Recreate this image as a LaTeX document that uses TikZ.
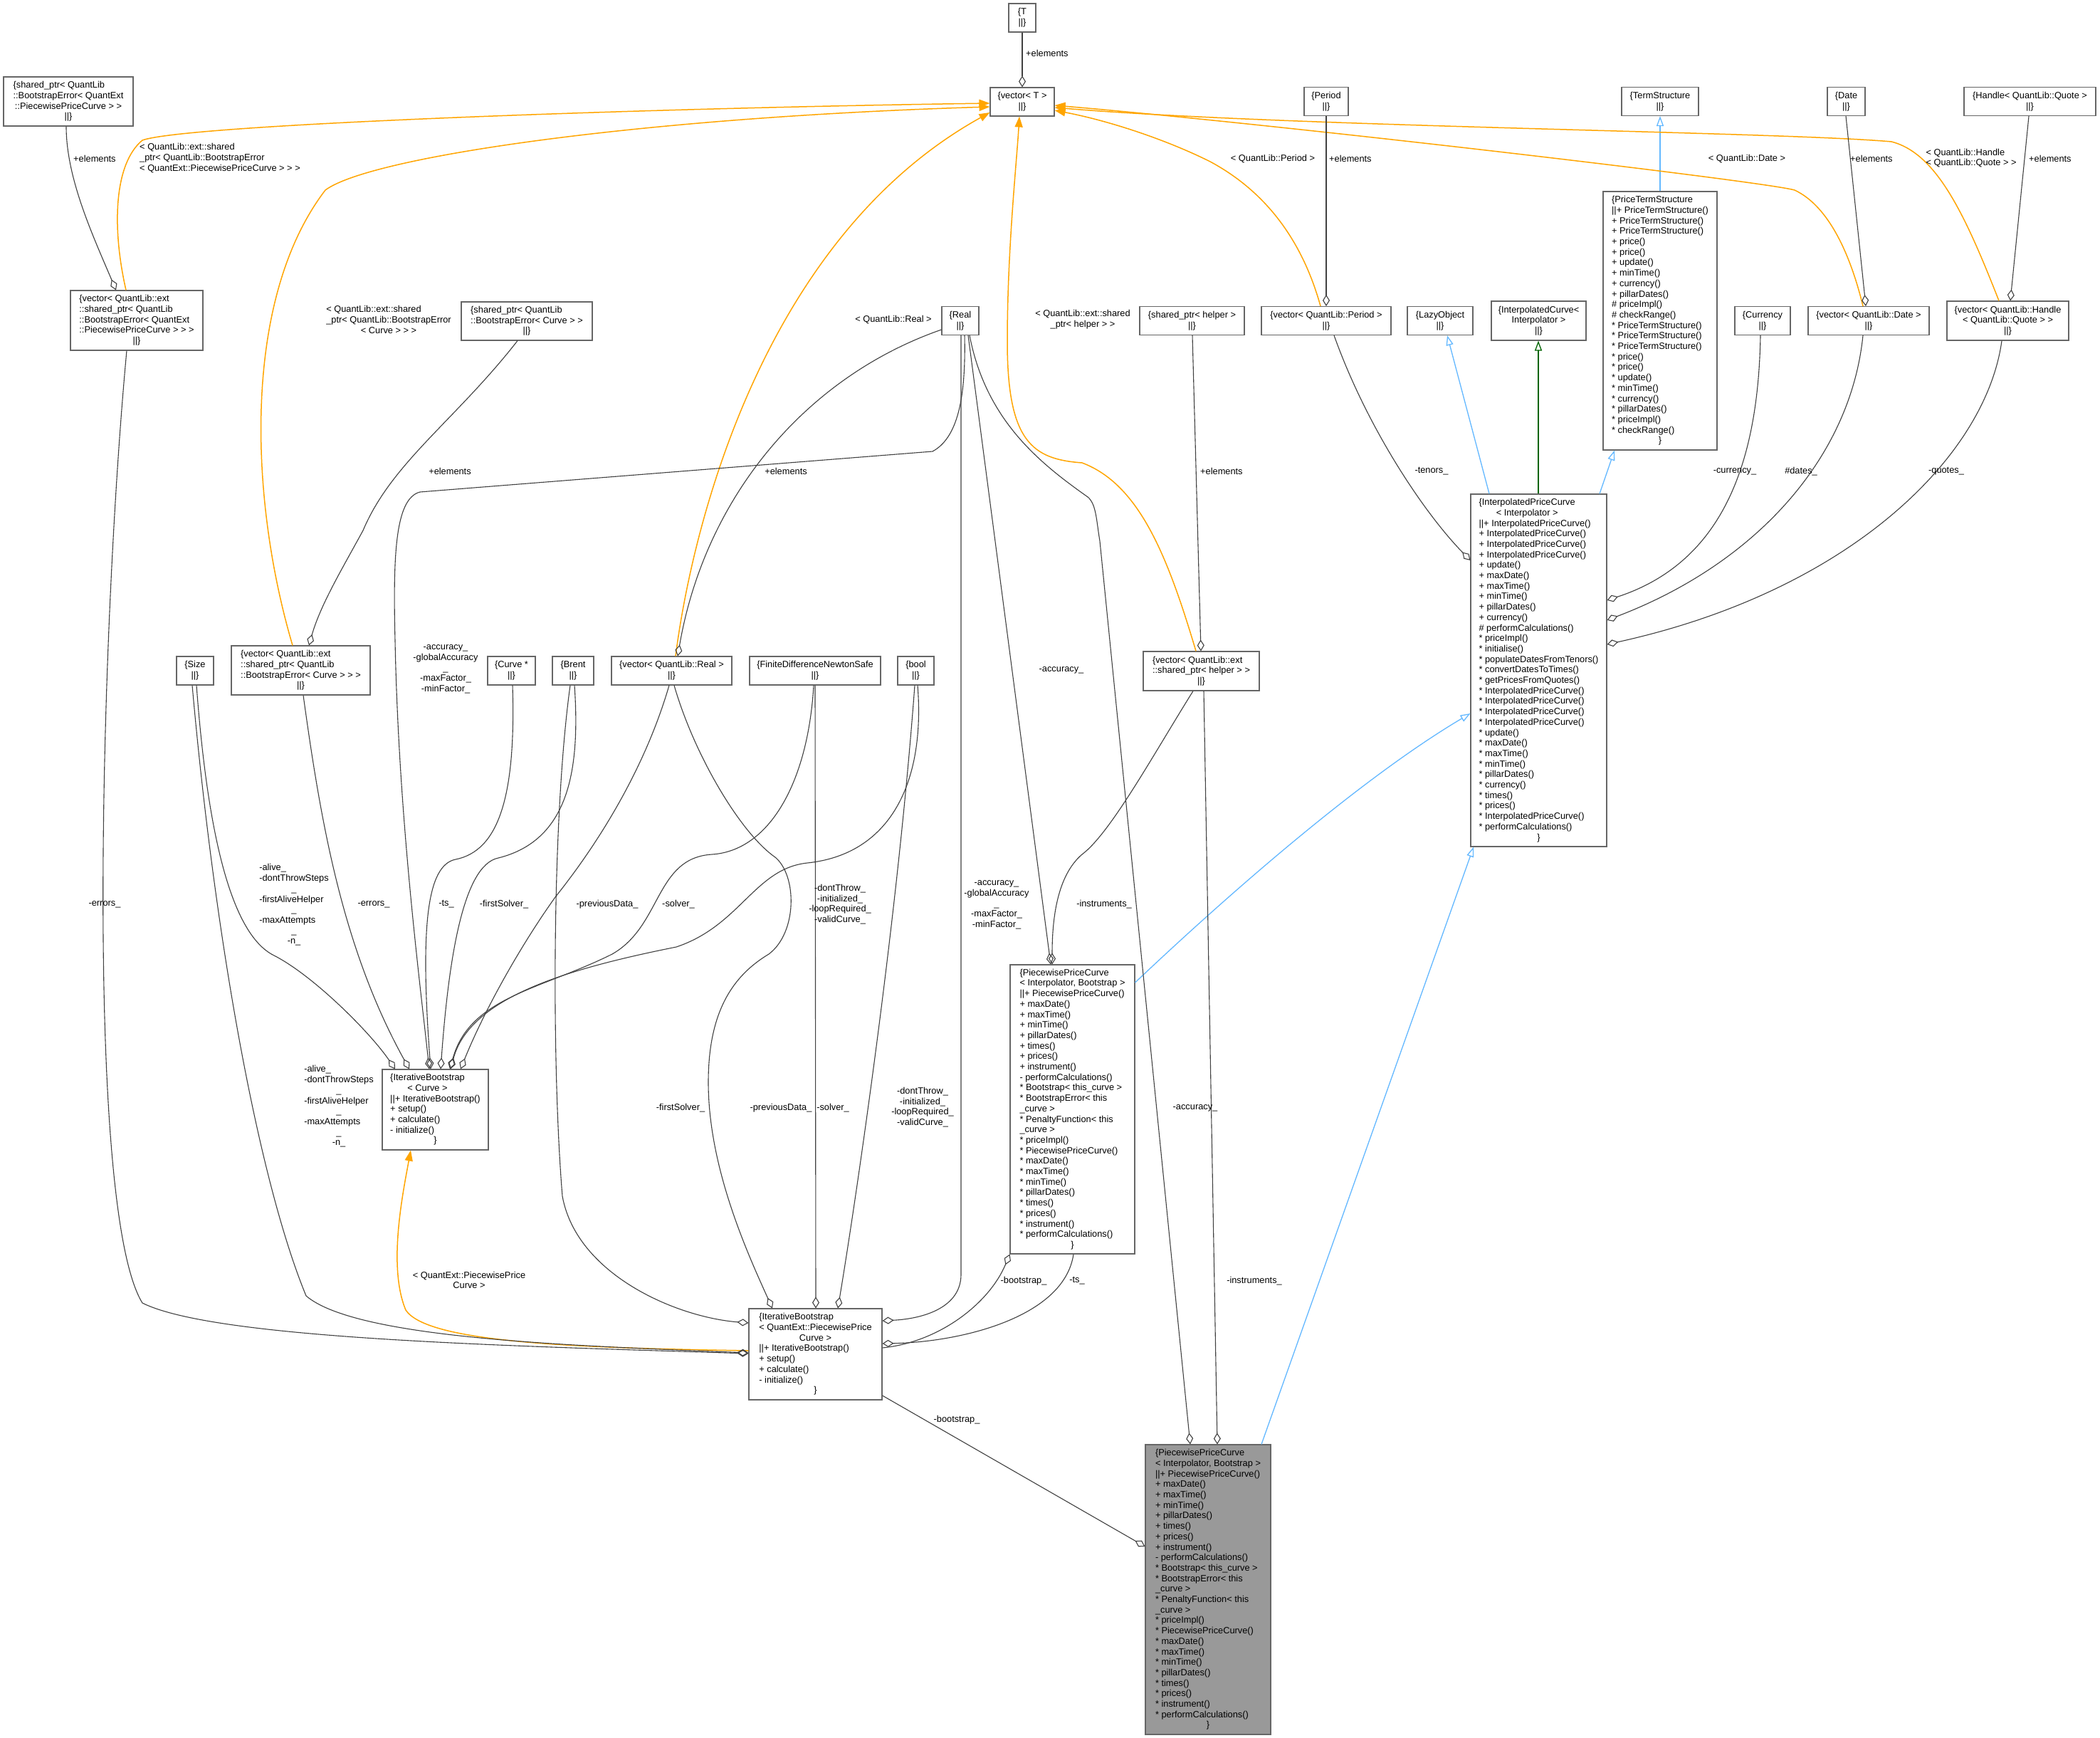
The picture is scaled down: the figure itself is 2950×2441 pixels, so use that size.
\documentclass[tikz,border=0pt]{standalone}
\usepackage{fontspec}
\setmainfont{Liberation Sans}
\usetikzlibrary{arrows.meta}
\newcommand\fs{\fontsize{12.8pt}{14.7pt}\selectfont}
\newcommand\cl[1]{\hfill#1\hfill\hbox{}}
\definecolor{boxc}{HTML}{666666}
\definecolor{edgec}{HTML}{404040}
\definecolor{orng}{HTML}{FFA500}
\definecolor{blu}{HTML}{63B8FF}
\definecolor{grn}{HTML}{006400}
\definecolor{selfc}{HTML}{999999}
\newcommand\ppcbody{\{PiecewisePriceCurve\\
\cl{< Interpolator, Bootstrap >}\\
||+ PiecewisePriceCurve()\\
+ maxDate()\\
+ maxTime()\\
+ minTime()\\
+ pillarDates()\\
+ times()\\
+ prices()\\
+ instrument()\\
- performCalculations()\\
{}* Bootstrap< this\_curve >\\
{}* BootstrapError< this\\
\_curve >\\
{}* PenaltyFunction< this\\
\_curve >\\
{}* priceImpl()\\
{}* PiecewisePriceCurve()\\
{}* maxDate()\\
{}* maxTime()\\
{}* minTime()\\
{}* pillarDates()\\
{}* times()\\
{}* prices()\\
{}* instrument()\\
{}* performCalculations()\\
\cl{\}}}
\tikzset{
  cls/.style={draw=boxc, line width=1.1pt, fill=white, align=left, inner sep=0pt, font=\fs},
  clsc/.style={cls, align=center},
  agg/.style={draw=edgec, line width=1.1pt, -{Diamond[open, length=16pt, width=10pt]}},
  tmpl/.style={draw=orng, line width=1.5pt, -{Triangle[length=15pt, width=11pt, fill=orng]}},
  inh/.style={draw=blu, line width=1.3pt, -{Triangle[open, length=14pt, width=10pt]}},
  inhp/.style={draw=grn, line width=1.3pt, -{Triangle[open, length=14pt, width=10pt]}},
  lbl/.style={font=\fs, inner sep=0pt, align=center},
  lbll/.style={font=\fs, inner sep=0pt, align=left},
}
\begin{document}
\begin{tikzpicture}[x=1pt, y=-1pt]
\useasboundingbox (0,0) rectangle (2950,2441);
\fill[white] (0,0) rectangle (2950,2441);

% ---------- class boxes ----------
\node[clsc, minimum width=38pt, minimum height=40pt] (T) at (1436,25) {\{T\\||\}};
\node[clsc, minimum width=90pt, minimum height=40pt] (vecT) at (1436,143) {\{vector< T >\\||\}};
\node[cls, minimum width=182pt, minimum height=69pt] (spQE) at (96,142.5) {\{shared\_ptr< QuantLib\\::BootstrapError< QuantExt\\\cl{::PiecewisePriceCurve > >}\\\cl{||\}}};
\node[cls, minimum width=186pt, minimum height=84pt] (vecQE) at (192,450) {\{vector< QuantLib::ext\\::shared\_ptr< QuantLib\\::BootstrapError< QuantExt\\\cl{::PiecewisePriceCurve > > >}\\\cl{||\}}};
\node[cls, minimum width=184pt, minimum height=54pt] (spCurve) at (740,451) {\{shared\_ptr< QuantLib\\\cl{::BootstrapError< Curve > >}\\\cl{||\}}};
\node[cls, minimum width=195pt, minimum height=69pt] (vecCurve) at (422.5,941.5) {\{vector< QuantLib::ext\\::shared\_ptr< QuantLib\\\cl{::BootstrapError< Curve > > >}\\\cl{||\}}};
\node[clsc, minimum width=52pt, minimum height=40pt] (Size) at (274,942) {\{Size\\||\}};
\node[clsc, minimum width=67pt, minimum height=40pt] (CurveStar) at (718.5,942) {\{Curve *\\||\}};
\node[clsc, minimum width=58pt, minimum height=40pt] (Brent) at (805,942) {\{Brent\\||\}};
\node[clsc, minimum width=169pt, minimum height=40pt] (vecReal) at (943.5,942) {\{vector< QuantLib::Real >\\||\}};
\node[clsc, minimum width=184pt, minimum height=40pt] (FDNS) at (1145,942) {\{FiniteDifferenceNewtonSafe\\||\}};
\node[clsc, minimum width=51pt, minimum height=40pt] (bool) at (1286.5,942) {\{bool\\||\}};
\node[clsc, minimum width=52pt, minimum height=40pt] (Real) at (1349,450.5) {\{Real\\||\}};
\node[clsc, minimum width=147pt, minimum height=40pt] (spHelper) at (1674.5,450.5) {\{shared\_ptr< helper >\\||\}};
\node[cls, minimum width=163pt, minimum height=55pt] (vecHelper) at (1687.5,942.5) {\{vector< QuantLib::ext\\\cl{::shared\_ptr< helper > >}\\\cl{||\}}};
\node[clsc, minimum width=62pt, minimum height=40pt] (Period) at (1863,142.5) {\{Period\\||\}};
\node[clsc, minimum width=108pt, minimum height=40pt] (TermStructure) at (2332,142.5) {\{TermStructure\\||\}};
\node[clsc, minimum width=53pt, minimum height=40pt] (Date) at (2593.5,142.5) {\{Date\\||\}};
\node[clsc, minimum width=185pt, minimum height=40pt] (Handle) at (2851.5,142.5) {\{Handle< QuantLib::Quote >\\||\}};
\node[clsc, minimum width=182pt, minimum height=40pt] (vecPeriod) at (1863,450.5) {\{vector< QuantLib::Period >\\||\}};
\node[clsc, minimum width=92pt, minimum height=40pt] (LazyObject) at (2023,450.5) {\{LazyObject\\||\}};
\node[cls, minimum width=133pt, minimum height=55pt] (InterpCurve) at (2161.5,450.5) {\{InterpolatedCurve<\\\cl{Interpolator >}\\\cl{||\}}};
\node[clsc, minimum width=78pt, minimum height=40pt] (Currency) at (2476,450.5) {\{Currency\\||\}};
\node[clsc, minimum width=170pt, minimum height=40pt] (vecDate) at (2625,450.5) {\{vector< QuantLib::Date >\\||\}};
\node[cls, minimum width=171pt, minimum height=55pt] (vecHandle) at (2820.5,450.5) {\{vector< QuantLib::Handle\\\cl{< QuantLib::Quote > >}\\\cl{||\}}};
\node[cls, minimum width=160pt, minimum height=363pt] (PTS) at (2332,450.5) {\cl{\{PriceTermStructure}\\
||+ PriceTermStructure()\\
+ PriceTermStructure()\\
+ PriceTermStructure()\\
+ price()\\
+ price()\\
+ update()\\
+ minTime()\\
+ currency()\\
+ pillarDates()\\
\# priceImpl()\\
\# checkRange()\\
{}* PriceTermStructure()\\
{}* PriceTermStructure()\\
{}* PriceTermStructure()\\
{}* price()\\
{}* price()\\
{}* update()\\
{}* minTime()\\
{}* currency()\\
{}* pillarDates()\\
{}* priceImpl()\\
{}* checkRange()\\
\cl{\}}};
\node[cls, minimum width=191pt, minimum height=495pt] (IPC) at (2161.5,941.5) {\{InterpolatedPriceCurve\\
\cl{< Interpolator >}\\
||+ InterpolatedPriceCurve()\\
+ InterpolatedPriceCurve()\\
+ InterpolatedPriceCurve()\\
+ InterpolatedPriceCurve()\\
+ update()\\
+ maxDate()\\
+ maxTime()\\
+ minTime()\\
+ pillarDates()\\
+ currency()\\
\# performCalculations()\\
{}* priceImpl()\\
{}* initialise()\\
{}* populateDatesFromTenors()\\
{}* convertDatesToTimes()\\
{}* getPricesFromQuotes()\\
{}* InterpolatedPriceCurve()\\
{}* InterpolatedPriceCurve()\\
{}* InterpolatedPriceCurve()\\
{}* InterpolatedPriceCurve()\\
{}* update()\\
{}* maxDate()\\
{}* maxTime()\\
{}* minTime()\\
{}* pillarDates()\\
{}* currency()\\
{}* times()\\
{}* prices()\\
{}* InterpolatedPriceCurve()\\
{}* performCalculations()\\
\cl{\}}};
\node[cls, minimum width=175pt, minimum height=406pt] (PPCm) at (1506.5,1558) {\ppcbody};
\node[cls, minimum width=149pt, minimum height=113pt] (IBC) at (611.5,1558.5) {\{IterativeBootstrap\\
\cl{< Curve >}\\
||+ IterativeBootstrap()\\
+ setup()\\
+ calculate()\\
- initialize()\\
\cl{\}}};
\node[cls, minimum width=187pt, minimum height=128pt] (IBQE) at (1145.5,1902) {\{IterativeBootstrap\\
< QuantExt::PiecewisePrice\\
\cl{Curve >}\\
||+ IterativeBootstrap()\\
+ setup()\\
+ calculate()\\
- initialize()\\
\cl{\}}};
\node[cls, fill=selfc, minimum width=176pt, minimum height=407pt] (PPCb) at (1697,2232.5) {\ppcbody};

% ---------- inheritance ----------
\draw[inh] (PTS.north) -- (TermStructure.south);
\draw[inh] (IPC.north -| 2247,0) -- (PTS.south -| 2268,0);
\draw[inh] (IPC.north -| 2092,0) -- (LazyObject.south -| 2033,0);
\draw[inhp] (IPC.north -| 2161,0) -- (InterpCurve.south -| 2161,0);
\draw[inh] (PPCm.east |- 0,1380) .. controls (1700,1280) and (1900,1100) .. (IPC.west |- 0,1002);
\draw[inh] (PPCb.north -| 1772,0) -- (IPC.south -| 2070,0);

% ---------- template instances ----------
\draw[tmpl] (vecQE.north -| 177,0) .. controls (157,320) and (160,230) .. (200,197) .. controls (260,175) and (900,152) .. (vecT.west |- 0,145);
\draw[tmpl] (vecCurve.north -| 411,0) .. controls (350,700) and (340,420) .. (457,267) .. controls (520,220) and (900,165) .. (vecT.west |- 0,150);
\draw[tmpl] (vecReal.north -| 949,0) .. controls (975,720) and (1080,330) .. (vecT.west |- 0,158);
\draw[tmpl] (vecHelper.north -| 1680,0) .. controls (1640,780) and (1600,680) .. (1520,650) .. controls (1450,645) and (1415,620) .. (1415,480) .. controls (1415,350) and (1428,230) .. (vecT.south -| 1432,0);
\draw[tmpl] (vecPeriod.north -| 1855,0) .. controls (1830,340) and (1780,270) .. (1700,227) .. controls (1640,197) and (1560,170) .. (vecT.east |- 0,155);
\draw[tmpl] (vecDate.north -| 2617,0) .. controls (2600,360) and (2570,290) .. (2521,267) .. controls (2480,255) and (1800,175) .. (vecT.east |- 0,148);
\draw[tmpl] (vecHandle.north -| 2808,0) .. controls (2760,300) and (2720,215) .. (2657,199) .. controls (2500,185) and (1800,178) .. (vecT.east |- 0,151);
\draw[tmpl] (IBQE.west |- 0,1897) .. controls (800,1893) and (600,1885) .. (570,1840) .. controls (545,1780) and (565,1680) .. (IBC.south -| 577,0);

% ---------- element aggregations ----------
\draw[agg] (T.south) -- (vecT.north);
\draw[agg] (spQE.south -| 93,0) .. controls (93,250) and (130,330) .. (vecQE.north -| 163,0);
\draw[agg] (spCurve.south -| 727,0) .. controls (640,590) and (550,650) .. (510,745) .. controls (480,800) and (450,850) .. (vecCurve.north -| 434,0);
\draw[agg] (Real.west |- 0,463) .. controls (1130,530) and (990,700) .. (vecReal.north -| 952,0);
\draw[agg] (Period.south) -- (vecPeriod.north);
\draw[agg] (Date.south -| 2593,0) -- (vecDate.north -| 2621,0);
\draw[agg] (Handle.south -| 2850,0) -- (vecHandle.north -| 2824,0);
\draw[agg] (spHelper.south -| 1675,0) -- (vecHelper.north -| 1687,0);

% ---------- InterpolatedPriceCurve members ----------
\draw[agg] (vecPeriod.south -| 1874,0) .. controls (1920,600) and (2000,720) .. (IPC.west |- 0,787);
\draw[agg] (Currency.south -| 2473,0) .. controls (2470,650) and (2420,790) .. (IPC.east |- 0,843);
\draw[agg] (vecDate.south -| 2617,0) .. controls (2600,640) and (2470,790) .. (IPC.east |- 0,871);
\draw[agg] (vecHandle.south -| 2812,0) .. controls (2790,640) and (2600,830) .. (IPC.east |- 0,905);

% ---------- IterativeBootstrap<Curve> members ----------
\draw[agg] (Size.south -| 276,0) .. controls (290,1150) and (320,1310) .. (385,1342) .. controls (440,1370) and (520,1450) .. (IBC.north -| 555,0);
\draw[agg] (vecCurve.south -| 426,0) .. controls (450,1150) and (480,1330) .. (IBC.north -| 575,0);
\draw[agg] (Real.south -| 1355,0) .. controls (1357,560) and (1345,615) .. (1310,634) -- (590,691) .. controls (555,700) and (552,780) .. (555,900) .. controls (560,1150) and (590,1380) .. (IBC.north -| 603,0);
\draw[agg] (CurveStar.south -| 720,0) .. controls (725,1120) and (700,1195) .. (640,1207) .. controls (600,1215) and (590,1300) .. (IBC.north -| 605,0);
\draw[agg] (Brent.south -| 807,0) .. controls (815,1080) and (800,1180) .. (700,1205) .. controls (650,1215) and (630,1350) .. (IBC.north -| 619,0);
\draw[agg] (vecReal.south -| 940,0) .. controls (900,1100) and (820,1210) .. (780,1260) .. controls (730,1330) and (680,1420) .. (IBC.north -| 647,0);
\draw[agg] (FDNS.south -| 1143,0) .. controls (1135,1100) and (1080,1195) .. (1000,1200) .. controls (920,1205) and (930,1300) .. (860,1340) .. controls (760,1390) and (660,1400) .. (IBC.north -| 632,0);
\draw[agg] (bool.south -| 1289,0) .. controls (1300,1100) and (1250,1200) .. (1134,1212) .. controls (1060,1220) and (1040,1300) .. (950,1330) .. controls (800,1360) and (660,1400) .. (IBC.north -| 633,0);

% ---------- IterativeBootstrap<PiecewisePriceCurve> members ----------
\draw[agg] (Size.south -| 270,0) .. controls (300,1300) and (360,1650) .. (430,1820) .. controls (500,1880) and (800,1890) .. (IBQE.west |- 0,1900);
\draw[agg] (vecQE.south -| 178,0) .. controls (140,900) and (120,1700) .. (200,1830) .. controls (300,1880) and (700,1890) .. (IBQE.west |- 0,1901);
\draw[agg] (Brent.south -| 801,0) .. controls (775,1150) and (775,1500) .. (790,1680) .. controls (810,1790) and (950,1850) .. (IBQE.west |- 0,1858);
\draw[agg] (vecReal.south -| 947,0) .. controls (975,1060) and (1040,1170) .. (1089,1204) .. controls (1120,1230) and (1120,1310) .. (1080,1340) .. controls (1030,1370) and (995,1420) .. (995,1520) .. controls (995,1640) and (1050,1760) .. (IBQE.north -| 1085,0);
\draw[agg] (FDNS.south -| 1145,0) -- (IBQE.north -| 1146,0);
\draw[agg] (bool.south -| 1285,0) .. controls (1260,1300) and (1200,1700) .. (IBQE.north -| 1177,0);
\draw[agg] (Real.south -| 1350,0) -- (1350,1790) .. controls (1350,1835) and (1300,1852) .. (IBQE.east |- 0,1855);
\draw[agg] (PPCm.south -| 1508,0) .. controls (1495,1850) and (1350,1885) .. (IBQE.east |- 0,1887);

% ---------- PiecewisePriceCurve members ----------
\draw[agg] (Real.south -| 1360,0) -- (PPCm.north -| 1476,0);
\draw[agg] (vecHelper.south -| 1676,0) .. controls (1620,1060) and (1560,1170) .. (1520,1200) .. controls (1485,1230) and (1478,1290) .. (PPCm.north -| 1478,0);
\draw[agg] (IBQE.east |- 0,1893) .. controls (1320,1885) and (1390,1830) .. (PPCm.south west);
\draw[agg] (Real.south -| 1362,0) .. controls (1385,590) and (1460,650) .. (1528,698) .. controls (1540,708) and (1540,730) .. (1545,760) -- (PPCb.north -| 1672,0);
\draw[agg] (vecHelper.south -| 1691,0) -- (PPCb.north -| 1710,0);
\draw[agg] (IBQE.east |- 0,1960) -- (PPCb.west |- 0,2172);

% ---------- labels ----------
\node[lbl, anchor=west] (lT) at (1441,75) {+elements};
\node[lbl, anchor=west] (lspQE) at (103,223) {+elements};
\node[lbll] (loQE) at (309,222) {< QuantLib::ext::shared\\\_ptr< QuantLib::BootstrapError\\< QuantExt::PiecewisePriceCurve > > >};
\node[lbll] (loCurve) at (546,449) {< QuantLib::ext::shared\\\_ptr< QuantLib::BootstrapError\\\cl{< Curve > > >}};
\node[lbl] (lspCurve) at (632,662) {+elements};
\node[lbl] (loReal) at (1255,449) {< QuantLib::Real >};
\node[lbl] (lReal) at (1104,662) {+elements};
\node[lbll] (loHelper) at (1521,449) {< QuantLib::ext::shared\\\cl{\_ptr< helper > >}};
\node[lbl, anchor=west] (lHelper) at (1686,662) {+elements};
\node[lbl] (lacc1) at (1491,941) {-accuracy\_};
\node[lbl] (loPeriod) at (1788,223) {< QuantLib::Period >};
\node[lbl, anchor=west] (lPeriod) at (1867,223) {+elements};
\node[lbl] (loDate) at (2454,223) {< QuantLib::Date >};
\node[lbl, anchor=west] (lDate) at (2599,223) {+elements};
\node[lbll] (loHandle) at (2769,222) {< QuantLib::Handle\\\cl{< QuantLib::Quote > >}};
\node[lbl, anchor=west] (lHandle) at (2850,223) {+elements};
\node[lbl] (ltenors) at (2011,662) {-tenors\_};
\node[lbl] (lcurrency) at (2437,662) {-currency\_};
\node[lbl] (ldates) at (2530,662) {\#dates\_};
\node[lbl] (lquotes) at (2734,662) {-quotes\_};
\node[lbl] (lacc2) at (626,940) {-accuracy\_\\-globalAccuracy\\\_\\-maxFactor\_\\-minFactor\_};
\node[lbll] (lalive1) at (413,1271) {\cl{-alive\_}\\-dontThrowSteps\\\cl{\_}\\-firstAliveHelper\\\cl{\_}\\-maxAttempts\\\cl{\_}\\\cl{-n\_}};
\node[lbl] (lerr1) at (525,1270) {-errors\_};
\node[lbl] (lts1) at (627,1270) {-ts\_};
\node[lbl] (lfs1) at (708,1270) {-firstSolver\_};
\node[lbl] (lpd1) at (853,1270) {-previousData\_};
\node[lbl] (lsv1) at (953,1270) {-solver\_};
\node[lbl] (ldt1) at (1180,1270) {-dontThrow\_\\-initialized\_\\-loopRequired\_\\-validCurve\_};
\node[lbl] (lacc3) at (1400,1271) {-accuracy\_\\-globalAccuracy\\\_\\-maxFactor\_\\-minFactor\_};
\node[lbl] (linst1) at (1551,1270) {-instruments\_};
\node[lbl] (lerr2) at (147,1270) {-errors\_};
\node[lbll] (lalive2) at (476,1554) {\cl{-alive\_}\\-dontThrowSteps\\\cl{\_}\\-firstAliveHelper\\\cl{\_}\\-maxAttempts\\\cl{\_}\\\cl{-n\_}};
\node[lbl] (lfs2) at (956,1556) {-firstSolver\_};
\node[lbl] (lpd2) at (1097,1556) {-previousData\_};
\node[lbl] (lsv2) at (1170,1556) {-solver\_};
\node[lbl] (ldt2) at (1296,1555) {-dontThrow\_\\-initialized\_\\-loopRequired\_\\-validCurve\_};
\node[lbl] (lacc4) at (1679,1556) {-accuracy\_};
\node[lbll] (loIB) at (659,1798) {< QuantExt::PiecewisePrice\\\cl{Curve >}};
\node[lbl] (lbs1) at (1438,1799) {-bootstrap\_};
\node[lbl] (lts2) at (1513,1799) {-ts\_};
\node[lbl] (linst2) at (1762,1799) {-instruments\_};
\node[lbl] (lbs2) at (1344,1994) {-bootstrap\_};
\end{tikzpicture}
\end{document}
